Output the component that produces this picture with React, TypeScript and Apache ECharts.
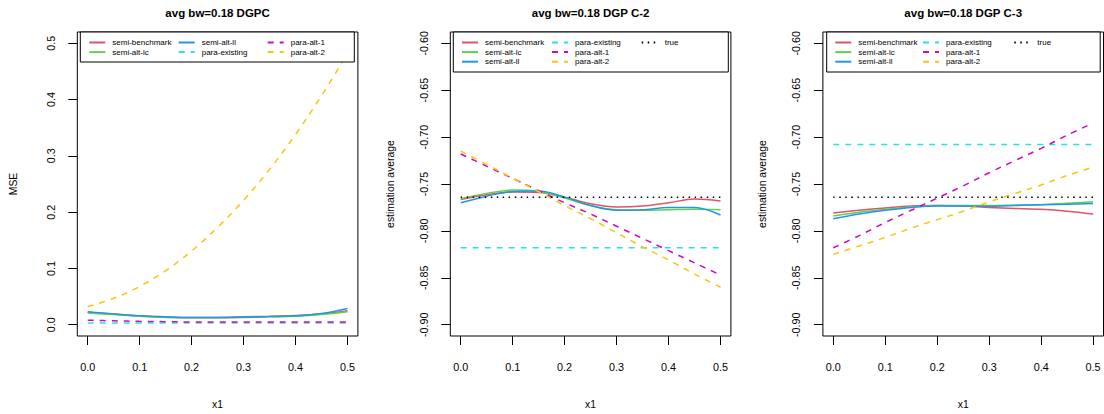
import React, { useEffect, useRef } from "react";
import * as echarts from "echarts";

// ---------- data ----------
const xs = [0, 0.05, 0.1, 0.15, 0.2, 0.25, 0.3, 0.35, 0.4, 0.45, 0.5];
const xTicks = [0, 0.1, 0.2, 0.3, 0.4, 0.5];
const mseTicks = [0, 0.1, 0.2, 0.3, 0.4, 0.5];
const estTicks = [-0.9, -0.85, -0.8, -0.75, -0.7, -0.65, -0.6];

const titles = ["avg bw=0.18 DGPC", "avg bw=0.18 DGP C-2", "avg bw=0.18 DGP C-3"];
const yNames = ["MSE", "estimation average", "estimation average"];
const xName = "x1";

const seriesNames = ["semi-benchmark", "semi-alt-lc", "semi-alt-ll", "para-existing", "para-alt-1", "para-alt-2", "true"];

// Panel 1: MSE
const mseSemiBenchmark = [0.022, 0.019, 0.016, 0.014, 0.013, 0.013, 0.014, 0.015, 0.0165, 0.019, 0.025];
const mseSemiAltLc = [0.021, 0.018, 0.015, 0.013, 0.0125, 0.0125, 0.013, 0.014, 0.015, 0.018, 0.023];
const mseSemiAltLl = [0.023, 0.019, 0.016, 0.014, 0.013, 0.013, 0.0135, 0.0145, 0.016, 0.02, 0.029];
const mseParaExisting = [0.003, 0.003, 0.003, 0.003, 0.003, 0.003, 0.003, 0.003, 0.003, 0.003, 0.003];
const mseParaAlt1 = [0.008, 0.007, 0.006, 0.0055, 0.005, 0.005, 0.005, 0.005, 0.005, 0.005, 0.005];
const mseParaAlt2 = [0.032, 0.047, 0.068, 0.096, 0.131, 0.173, 0.221, 0.276, 0.338, 0.407, 0.482];

// Panel 2: DGP C-2 estimation average
const c2SemiBenchmark = [-0.7665, -0.7615, -0.7585, -0.759, -0.764, -0.771, -0.7745, -0.7735, -0.77, -0.766, -0.768];
const c2SemiAltLc = [-0.7657, -0.76, -0.7565, -0.758, -0.765, -0.773, -0.7775, -0.778, -0.7775, -0.777, -0.7775];
const c2SemiAltLl = [-0.77, -0.763, -0.758, -0.7575, -0.764, -0.773, -0.778, -0.7775, -0.775, -0.775, -0.783];
const c2ParaExisting = [-0.818, -0.818, -0.818, -0.818, -0.818, -0.818, -0.818, -0.818, -0.818, -0.818, -0.818];
const c2ParaAlt1 = [-0.718, -0.731, -0.744, -0.757, -0.77, -0.782, -0.795, -0.808, -0.821, -0.834, -0.847];
const c2ParaAlt2 = [-0.715, -0.729, -0.744, -0.758, -0.773, -0.787, -0.802, -0.817, -0.831, -0.846, -0.86];
const c2True = [-0.764, -0.764, -0.764, -0.764, -0.764, -0.764, -0.764, -0.764, -0.764, -0.764, -0.764];

// Panel 3: DGP C-3 estimation average
const c3SemiBenchmark = [-0.781, -0.778, -0.7755, -0.7735, -0.773, -0.7735, -0.775, -0.776, -0.777, -0.779, -0.782];
const c3SemiAltLc = [-0.784, -0.78, -0.777, -0.7745, -0.773, -0.773, -0.773, -0.7725, -0.772, -0.7705, -0.769];
const c3SemiAltLl = [-0.787, -0.782, -0.778, -0.775, -0.7735, -0.7735, -0.7738, -0.773, -0.772, -0.7715, -0.7707];
const c3ParaExisting = [-0.708, -0.708, -0.708, -0.708, -0.708, -0.708, -0.708, -0.708, -0.708, -0.708, -0.708];
const c3ParaAlt1 = [-0.818, -0.805, -0.791, -0.778, -0.765, -0.752, -0.738, -0.725, -0.712, -0.698, -0.685];
const c3ParaAlt2 = [-0.825, -0.816, -0.807, -0.797, -0.788, -0.779, -0.769, -0.76, -0.751, -0.741, -0.732];
const c3True = [-0.764, -0.764, -0.764, -0.764, -0.764, -0.764, -0.764, -0.764, -0.764, -0.764, -0.764];

// ---------- styles ----------
const FONT = "'Liberation Sans', Arial, Helvetica, sans-serif";
const colors: Record<string, string> = {
  "semi-benchmark": "#DF536B",
  "semi-alt-lc": "#61D04F",
  "semi-alt-ll": "#2297E6",
  "para-existing": "#28E2E5",
  "para-alt-1": "#CD0BBC",
  "para-alt-2": "#F5C710",
  true: "#000000",
};
const dashes: Record<string, any> = {
  "semi-benchmark": "solid",
  "semi-alt-lc": "solid",
  "semi-alt-ll": "solid",
  "para-existing": [6, 6],
  "para-alt-1": [6, 6],
  "para-alt-2": [6, 6],
  true: [1.5, 4.5],
};

const panelData: Record<string, number[]>[] = [
  {
    "semi-benchmark": mseSemiBenchmark,
    "semi-alt-lc": mseSemiAltLc,
    "semi-alt-ll": mseSemiAltLl,
    "para-existing": mseParaExisting,
    "para-alt-1": mseParaAlt1,
    "para-alt-2": mseParaAlt2,
  },
  {
    "semi-benchmark": c2SemiBenchmark,
    "semi-alt-lc": c2SemiAltLc,
    "semi-alt-ll": c2SemiAltLl,
    "para-existing": c2ParaExisting,
    "para-alt-1": c2ParaAlt1,
    "para-alt-2": c2ParaAlt2,
    true: c2True,
  },
  {
    "semi-benchmark": c3SemiBenchmark,
    "semi-alt-lc": c3SemiAltLc,
    "semi-alt-ll": c3SemiAltLl,
    "para-existing": c3ParaExisting,
    "para-alt-1": c3ParaAlt1,
    "para-alt-2": c3ParaAlt2,
    true: c3True,
  },
];

const gridLefts = [77.3, 450.3, 822.9];
const gridWidth = 280.6;
const gridTop = 32;
const gridHeight = 308.7;
const yNameGaps = [58.5, 55, 55];

const legendColumns = [
  [["semi-benchmark", "semi-alt-lc"], ["semi-alt-ll", "para-existing"], ["para-alt-1", "para-alt-2"]],
  [["semi-benchmark", "semi-alt-lc", "semi-alt-ll"], ["para-existing", "para-alt-1", "para-alt-2"], ["true"]],
  [["semi-benchmark", "semi-alt-lc", "semi-alt-ll"], ["para-existing", "para-alt-1", "para-alt-2"], ["true"]],
];
const legendColLefts = [
  [88.3, 177.7, 266.7],
  [461, 551, 640.7],
  [834.3, 922, 1013.3],
];
const legendBoxes = [
  { x: 80.3, w: 274, h: 30 },
  { x: 453.3, w: 275, h: 40 },
  { x: 826.7, w: 273.5, h: 40 },
];

export default function App() {
  const ref = useRef<HTMLDivElement>(null);

  useEffect(() => {
    if (!ref.current) return;
    const chart = echarts.init(ref.current, undefined, { renderer: "svg" });

    const grid = gridLefts.map((l) => ({
      left: l,
      top: gridTop,
      width: gridWidth,
      height: gridHeight,
      show: true,
      borderColor: "#000",
      borderWidth: 1,
      backgroundColor: "transparent",
    }));

    const xAxis = gridLefts.map((_, i) => ({
      type: "value",
      gridIndex: i,
      min: -0.02,
      max: 0.52,
      name: xName,
      nameLocation: "middle",
      nameGap: 63,
      nameTextStyle: { fontSize: 10.4, color: "#000", fontFamily: FONT },
      axisLine: { show: false, onZero: false },
      axisTick: { show: true, length: 9, inside: false, customValues: xTicks, lineStyle: { color: "#000", width: 1 } },
      axisLabel: {
        customValues: xTicks,
        formatter: (v: number) => v.toFixed(1),
        margin: 25,
        fontSize: 10.8,
        color: "#000",
        fontFamily: FONT,
      },
      splitLine: { show: false },
    }));

    const yAxis = gridLefts.map((_, i) => {
      const isMse = i === 0;
      const ticks = isMse ? mseTicks : estTicks;
      return {
        type: "value",
        gridIndex: i,
        min: isMse ? -0.02 : -0.912,
        max: isMse ? 0.52 : -0.588,
        name: yNames[i],
        nameLocation: "middle",
        nameGap: yNameGaps[i],
        nameTextStyle: { fontSize: 10.4, color: "#000", fontFamily: FONT },
        axisLine: { show: false, onZero: false },
        axisTick: { show: true, length: 9, inside: false, customValues: ticks, lineStyle: { color: "#000", width: 1 } },
        axisLabel: {
          customValues: ticks,
          rotate: 90,
          formatter: (v: number) => (isMse ? v.toFixed(1) : v.toFixed(2)),
          margin: 21,
          fontSize: 10.8,
          color: "#000",
          fontFamily: FONT,
        },
        splitLine: { show: false },
      };
    });

    const series: any[] = [];
    panelData.forEach((pd, i) => {
      seriesNames.forEach((name) => {
        const ys = pd[name];
        if (!ys) return;
        series.push({
          type: "line",
          name,
          xAxisIndex: i,
          yAxisIndex: i,
          data: xs.map((x, k) => [x, ys[k]]),
          smooth: 0.35,
          symbol: "none",
          showSymbol: false,
          lineStyle: { color: colors[name], width: 1.5, type: dashes[name] },
          itemStyle: { color: colors[name] },
          z: 2,
        });
      });
    });

    const legend: any[] = [];
    legendColumns.forEach((cols, p) => {
      cols.forEach((names, c) => {
        legend.push({
          data: names,
          orient: "vertical",
          left: legendColLefts[p][c],
          top: 38.5,
          padding: 0,
          itemWidth: 16,
          itemHeight: 8,
          itemGap: 1.6,
          selectedMode: false,
          z: 5,
          itemStyle: { opacity: 0, borderWidth: 0 },
          textStyle: { fontSize: 8, color: "#000", fontFamily: FONT, padding: [0, 0, 0, 2] },
        });
      });
    });

    const graphic = legendBoxes.map((b) => ({
      type: "rect",
      z: 4,
      shape: { x: b.x, y: gridTop, width: b.w, height: b.h },
      style: { fill: "#fff", stroke: "#000", lineWidth: 1 },
    }));

    const title = titles.map((t, i) => ({
      text: t,
      left: gridLefts[i] + gridWidth / 2,
      top: 6.5,
      textAlign: "center",
      padding: 0,
      textStyle: { fontSize: 11.5, fontWeight: "bold", color: "#000", fontFamily: FONT },
    }));

    chart.setOption({
      animation: false,
      backgroundColor: "#fff",
      title,
      grid,
      xAxis,
      yAxis,
      legend,
      graphic,
      series,
    } as any);

    return () => chart.dispose();
  }, []);

  return (
    <div
      ref={ref}
      style={{ position: "absolute", left: 0, top: 0, width: 1104, height: 414 }}
    />
  );
}
